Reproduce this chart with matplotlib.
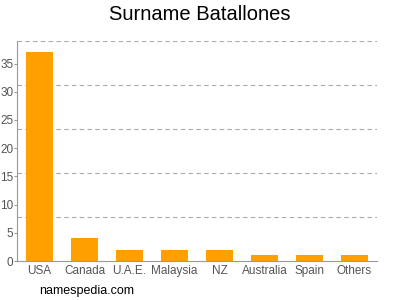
import numpy as np
import matplotlib
matplotlib.use("Agg")
from matplotlib import pyplot as plt

plt.rcParams["font.family"] = ["Liberation Sans", "DejaVu Sans"]

countries = ["USA", "Canada", "U.A.E.", "Malaysia", "NZ", "Australia", "Spain", "Others"]
counts = [37, 4, 2, 2, 2, 1, 1, 1]
yticks = [0, 5, 10, 15, 20, 25, 30, 35]
ymax = 39

fig = plt.figure(figsize=(4, 3), dpi=100)
ax = fig.add_axes([17 / 400, 39 / 300, 360 / 400, 220 / 300])

x = np.arange(len(countries))
ax.bar(x, counts, width=0.62, color="#ffa000", zorder=2)

# dashed grid at fifths of the range, like the original
for g in np.linspace(0, ymax, 6)[1:]:
    ax.axhline(g, color="#aaaaaa", linestyle=(0, (4, 3)), linewidth=0.8, zorder=1)

ax.set_xlim(-0.5, len(countries) - 0.5)
ax.set_ylim(0, ymax)
ax.set_xticks(x)
ax.set_xticklabels(countries)
ax.set_yticks(yticks)
ax.tick_params(axis="x", length=0, colors="#555555", labelsize=8.5, pad=3)
ax.tick_params(axis="y", length=2, colors="#999999", labelcolor="#555555", labelsize=8.5, pad=0.5)
for side in ["top", "right"]:
    ax.spines[side].set_visible(False)
for side in ["left", "bottom"]:
    ax.spines[side].set_color("#999999")
    ax.spines[side].set_linewidth(0.8)

fig.text(0.5, 0.95, "Surname Batallones", ha="center", va="center", fontsize=14.5)
fig.text(39 / 400, 1 - 291 / 300, "namespedia.com", ha="left", va="center", fontsize=9)

fig.savefig("out.png", dpi=100)
